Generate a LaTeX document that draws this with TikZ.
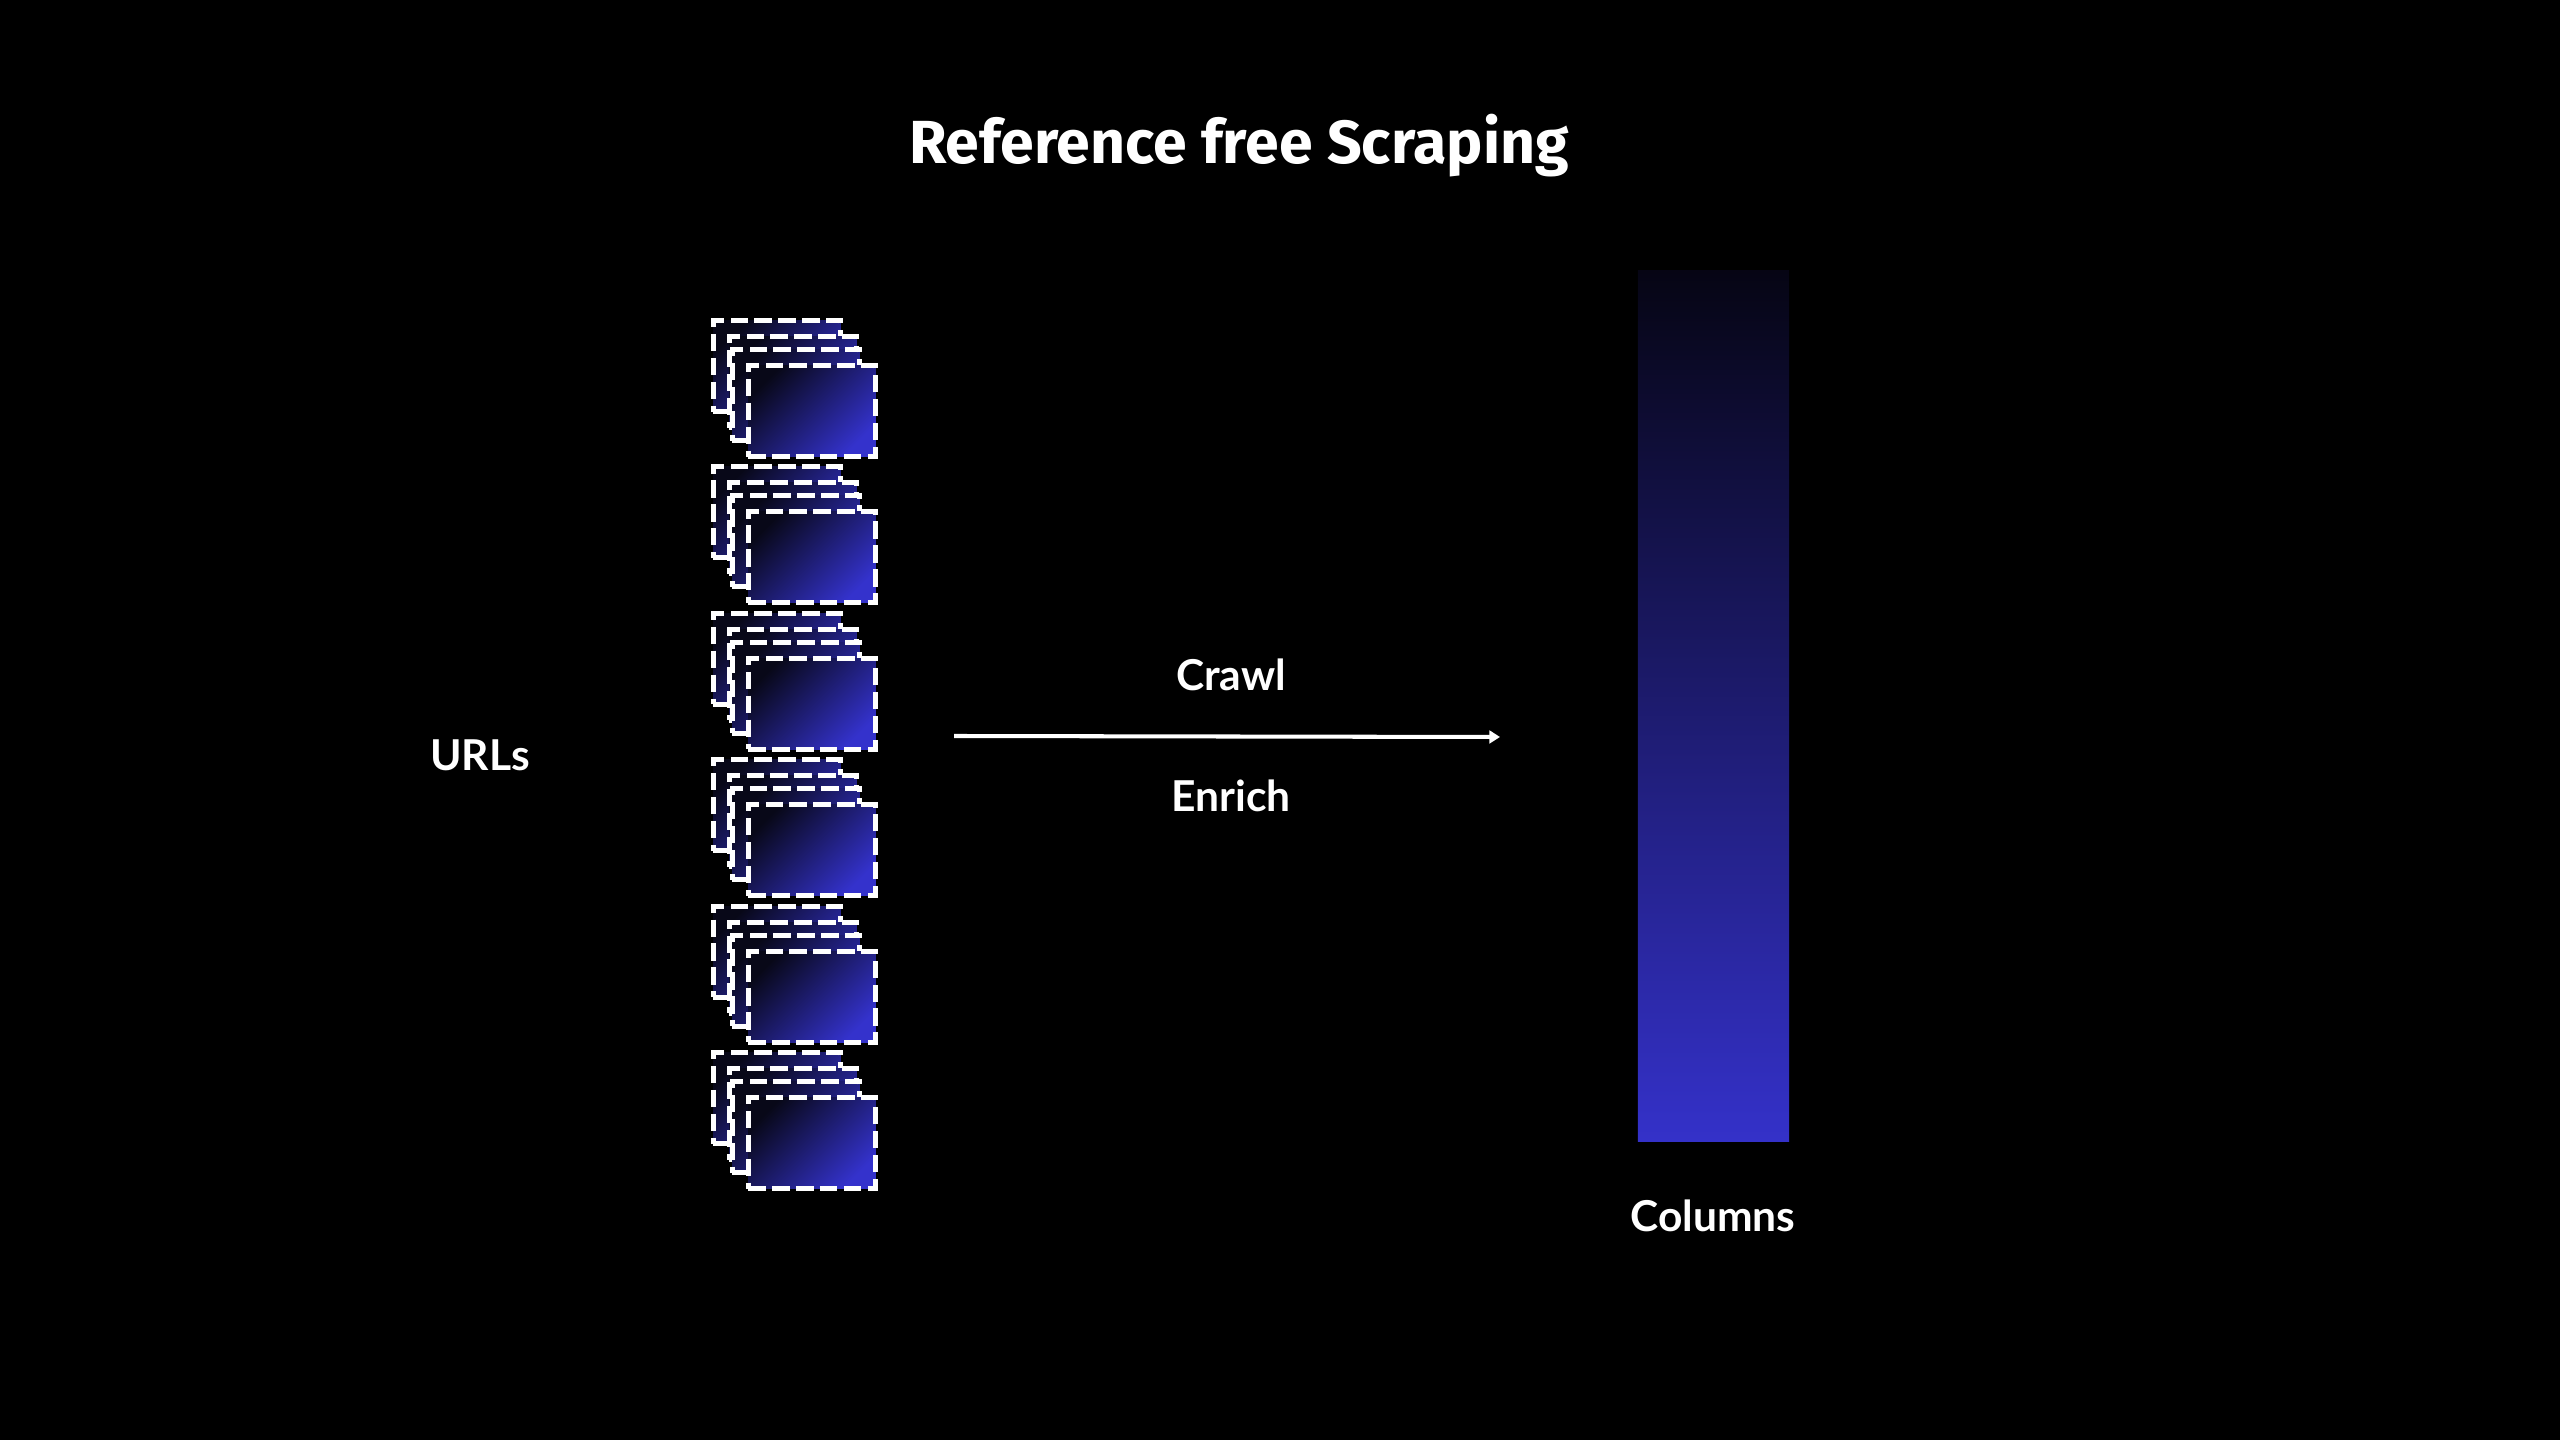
\documentclass[tikz,border=0pt]{standalone}
\usepackage{fontspec}
\setmainfont{Lato}
\newfontfamily\titlefont{Fira Sans}
\usetikzlibrary{arrows.meta}
\definecolor{bgblack}{RGB}{0,0,0}
\definecolor{dk}{RGB}{8,8,24}
\definecolor{bl}{RGB}{52,50,204}
\definecolor{coltop}{RGB}{6,5,20}
\definecolor{colbot}{RGB}{52,49,201}
\tikzset{
  page/.style={fill=bgblack},
  pagebox/.style={draw=white, line width=1.45pt, dash pattern=on 4.9pt off 1.9pt,
    minimum width=1.27cm, minimum height=0.91cm, inner sep=0pt,
    top color=dk, bottom color=bl, shading angle=45},
  lbl/.style={text=white, font=\bfseries\fontsize{12.1}{14}\selectfont},
  ttl/.style={text=white, font=\titlefont\bfseries\fontsize{17.3}{21}\selectfont},
  flow/.style={draw=white, line width=1.15pt, -{Triangle[length=3pt,width=3.6pt]}},
  colbar/.style={top color=coltop, bottom color=colbot, draw=none}
}
\begin{document}
\begin{tikzpicture}[x=0.01cm,y=-0.01cm]
\path[page] (0,0) rectangle (2560,1440);
\useasboundingbox (0,0) rectangle (2560,1440);
\node[ttl] (title) at (1239,146) {Reference free Scraping};
\foreach \g in {0,...,5}{
  \pgfmathsetmacro{\yy}{366+146.4*\g}
  \node[pagebox] (g\g a) at (777,\yy) {};
  \node[pagebox] (g\g b) at (793,\yy+16) {};
  \node[pagebox] (g\g c) at (796,\yy+29) {};
  \node[pagebox] (g\g d) at (812,\yy+45) {};
}
\node[lbl] (urls) at (480,755) {URLs};
\node[lbl] (crawl) at (1231,675) {Crawl};
\node[lbl] (enrich) at (1231,796) {Enrich};
\coordinate (arrS) at (954,736);
\coordinate (arrE) at (1500,737);
\draw[flow] (arrS) -- (arrE);
\node[colbar, minimum width=1.51cm, minimum height=8.70cm, inner sep=0pt] (cols) at (1713.5,706) {};
\node[lbl] (colslbl) at (1713,1216) {Columns};
\end{tikzpicture}
\end{document}
